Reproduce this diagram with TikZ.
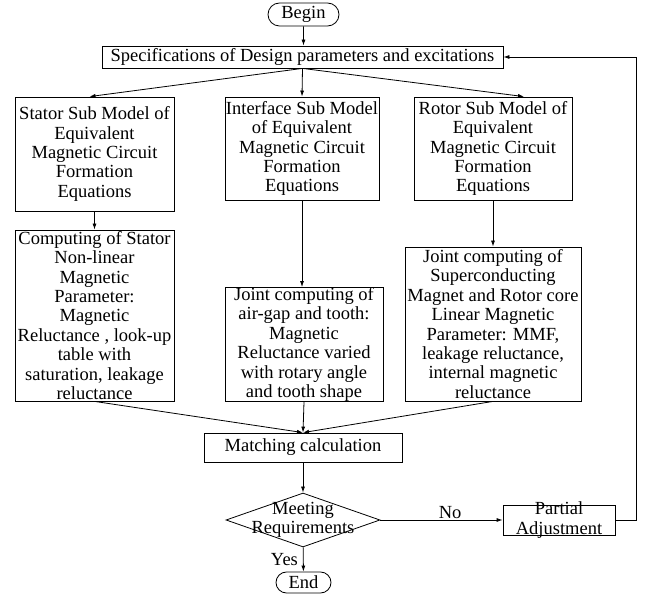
\documentclass[tikz,border=0pt]{standalone}
\usepackage{fontspec}
\setmainfont{Liberation Serif}
\usetikzlibrary{shapes, arrows.meta}

\begin{document}
\begin{tikzpicture}[x=1pt, y=1pt, line width=0.8pt,
    font=\fontsize{18.5}{19.4}\selectfont,
    box/.style={draw, rectangle, align=center, inner sep=0pt},
    term/.style={draw, rounded rectangle, inner sep=0pt},
    arr/.style={-{Latex[length=6pt,width=4pt]}}]
    \useasboundingbox (0,0) rectangle (649,-599);
    \node[term, minimum width=71, minimum height=23] (begin) at (303.5,-14.5) {Begin};
    \node[box, minimum width=401, minimum height=22] (spec) at (302.5,-57) {Specifications of Design parameters and excitations};
    \node[box, minimum width=159, minimum height=114] (stator) at (94.5,-154) {Stator Sub Model of\\Equivalent\\Magnetic Circuit\\Formation\\Equations};
    \node[box, minimum width=154, minimum height=103] (iface) at (302,-148.5) {Interface Sub Model\\of Equivalent\\Magnetic Circuit\\Formation\\Equations};
    \node[box, minimum width=158, minimum height=103] (rotor) at (493,-148.5) {Rotor Sub Model of\\Equivalent\\Magnetic Circuit\\Formation\\Equations};
    \node[box, minimum width=159, minimum height=171] (scomp) at (94.5,-315.5) {Computing of Stator\\Non-linear\\Magnetic\\Parameter:\\Magnetic\\Reluctance , look-up\\table with\\saturation, leakage\\reluctance};
    \node[box, minimum width=158, minimum height=113] (icomp) at (304,-344.5) {Joint computing of\\air-gap and tooth:\\Magnetic\\Reluctance varied\\with rotary angle\\and tooth shape};
    \node[box, minimum width=176, minimum height=154] (rcomp) at (493,-324) {Joint computing of\\Superconducting\\Magnet and Rotor core\\Linear Magnetic\\Parameter: MMF,\\leakage reluctance,\\internal magnetic\\reluctance};
    \node[box, minimum width=198, minimum height=29] (match) at (303,-447.5) {Matching calculation};
    \node[draw, diamond, inner sep=0pt, minimum width=154, minimum height=54,
        label={[align=center]center:Meeting\\Requirements}] (meet) at (303,-520) {};
    \node[box, minimum width=112, minimum height=30,
        label={[align=center]center:Partial\\Adjustment}] (adj) at (559,-520) {};
    \node[term, minimum width=55, minimum height=21] (end) at (303.5,-582.5) {End};

    \draw[arr] (begin) -- (begin |- spec.north);
    \draw[arr] (spec.south) -- ([xshift=-5]stator.north);
    \draw[arr] (spec.south) -- (iface.north);
    \draw[arr] (spec.south) -- ([xshift=31]rotor.north);
    \draw[arr] (stator) -- (scomp);
    \draw[arr] (iface.south) -- (iface.south |- icomp.north);
    \draw[arr] (rotor) -- (rcomp);
    \draw[arr] (scomp.south) -- (match.north);
    \draw[arr] (icomp.south) -- (match.north);
    \draw[arr] (rcomp.south) -- (match.north);
    \draw[arr] (match) -- (meet);
    \draw[arr] (meet) -- node[above, pos=0.57, inner sep=1pt] {No} (adj);
    \draw[arr] (meet) -- node[left, inner sep=5pt] {Yes} (end);
    \draw[arr] (adj.east) -- ++(21,0) |- (spec.east);
\end{tikzpicture}
\end{document}
